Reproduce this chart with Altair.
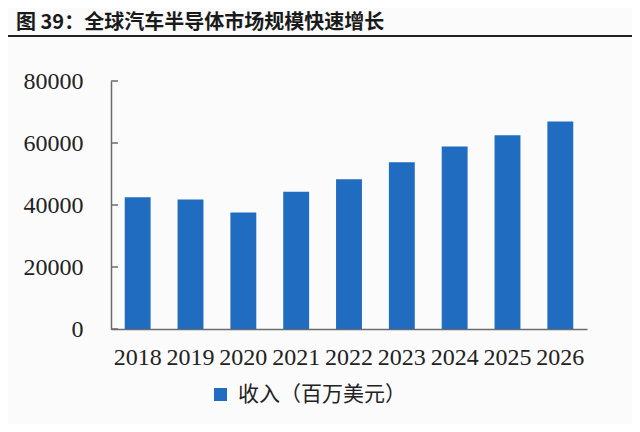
import altair as alt
import pandas as pd

years = ["2018", "2019", "2020", "2021", "2022", "2023", "2024", "2025", "2026"]
revenue = [42500, 41800, 37600, 44300, 48300, 53800, 58900, 62500, 66900]
series_name = "收入（百万美元）"
y_ticks = [0, 20000, 40000, 60000, 80000]
title_text = "图 39：全球汽车半导体市场规模快速增长"

bars_df = pd.DataFrame({"year": years, "value": revenue, "series": [series_name] * len(years)})
ticks_df = pd.DataFrame({"v": y_ticks})
line_df = pd.DataFrame({"a": [0]})

AXIS_COLOR = "#6b6b6b"
SERIF = "Liberation Serif"
CJK = "Noto Sans CJK SC"

y_axis = alt.Axis(
    values=y_ticks, format="d", title=None, grid=False, ticks=False,
    labelFont=SERIF, labelFontSize=24, labelColor="#222", labelPadding=28,
    domainColor=AXIS_COLOR, domainWidth=1.5,
)
y_scale = alt.Scale(domain=[0, 80000], nice=False)

bars = alt.Chart(bars_df).mark_bar(color="#1f6cc1").encode(
    x=alt.X("year:N", sort=years, title=None,
            scale=alt.Scale(paddingInner=0.51, paddingOuter=0.26),
            axis=alt.Axis(labelAngle=0, ticks=False, labelFont=SERIF, labelFontSize=24,
                          labelColor="#222", labelPadding=16, domainColor=AXIS_COLOR,
                          domainWidth=1.5)),
    y=alt.Y("value:Q", scale=y_scale, axis=y_axis),
    color=alt.Color("series:N", scale=alt.Scale(range=["#1f6cc1"]),
                    legend=alt.Legend(title=None, orient="none", legendX=99, legendY=303,
                                      symbolType="square", symbolSize=170,
                                      symbolStrokeWidth=0, labelFont=CJK,
                                      labelFontSize=21, labelColor="#222",
                                      labelOffset=7, labelLimit=400)),
)

ticks = alt.Chart(ticks_df).mark_rule(color=AXIS_COLOR, strokeWidth=1.5).encode(
    y=alt.Y("v:Q", scale=y_scale, axis=y_axis),
    x=alt.value(0), x2=alt.value(7),
)

title_rule = alt.Chart(line_df).mark_rule(color="#222", strokeWidth=2).encode(
    x=alt.value(-107), x2=alt.value(529), y=alt.value(-45),
)

chart = alt.layer(bars, ticks, title_rule).properties(
    width=476, height=248,
    padding={"left": 103, "top": 73, "right": 45, "bottom": 95},
    autosize=alt.AutoSizeParams(type="none"),
    background="#fbfbfc",
    title=alt.TitleParams(title_text, anchor="start", frame="bounds", dx=13, offset=2,
                          font=CJK, fontSize=20, fontWeight="bold", color="#1a1a1a"),
).configure_view(stroke=None)

chart.save("out.html", embed_options={"renderer": "svg", "actions": False})
